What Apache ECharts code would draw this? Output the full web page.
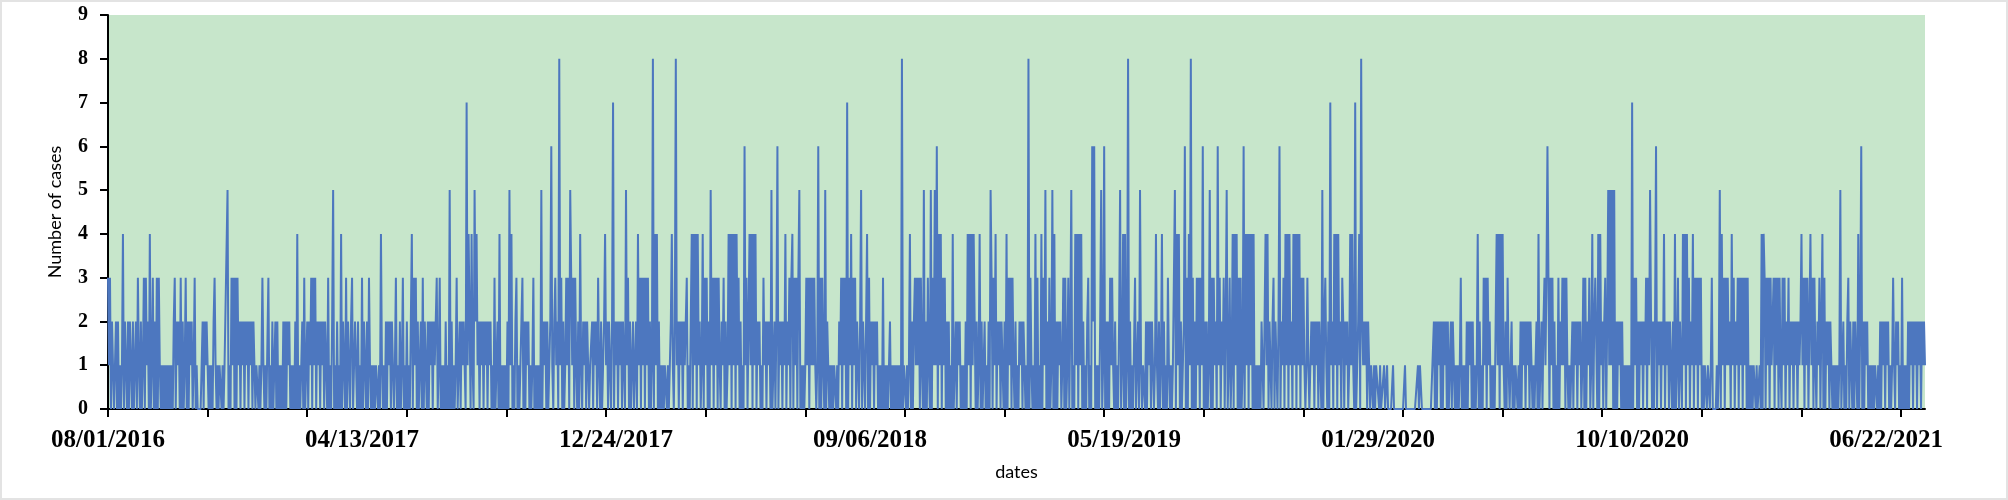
<!DOCTYPE html>
<html>
<head>
<meta charset="utf-8">
<script src="https://cdn.jsdelivr.net/npm/echarts@6/dist/echarts.min.js"></script>
<style>
  html, body { margin: 0; padding: 0; background: #fff; }
  #chart { width: 2008px; height: 500px; }
  #frame { position: absolute; left: 0; top: 0; width: 2008px; height: 500px; box-sizing: border-box; border: 2px solid #e3e3e3; pointer-events: none; }
</style>
</head>
<body>
<div id="chart"></div>
<div id="frame"></div>
<script>
// x axis labels, one every 255 rows
const tickLabels = ['08/01/2016', '04/13/2017', '12/24/2017', '09/06/2018', '05/19/2019', '01/29/2020', '10/10/2020', '06/22/2021'];

// daily number of cases, one digit per day (100 days per line)
const casesPart1 = [
  '3130220120 2010140210 2021020120 3102013031 2040130203 0310101010 1010102302 1203020130 2021201301 0000020212',
  '1010102310 1011010111 5010313030 3120212021 2021202101 1010131010 0301020120 2010102020 2120101020 4010120301',
  '2021303130 2120212021 0301025010 2010402103 0210230121 0201030210 2031010101 1010410102 0212021013 0102013010',
];
const casesPart2 = [
  '2010240313 0201203021 0202120212 3013010102 0105020101 3012021210 7142041052 4120212021 2021201030 1204010101',
  '0205140102 3010123020 2120101301 0101050212 0201261023 1208130201 3130531303 1020410212 0210112021 2031020124',
  '1202102702 1202120210 5130201201 2041303130 3130201804 1402010101 1010124102 8120212021 2301024041 4041201403',
];
const casesPart3 = [
  '1302051303 1303102130 2014140414 0413020106 1302414041 4021201031 2021205012 0260212021 4021303403 1303501010',
  '1313031313 1016030310 5021010101 1010213031 3070314031 3021025021 0240302120 2120101030 1010120101 0101010801',
  '1010140202 3131303105 0203105031 5160414031 3020201040 1202120101 0204140414 4020140201 2010205303 1402120210',
];
const casesPart4 = [
  '2040313031 0201021202 2010803101 0403010403 1502030150 4020212013 0301302501 0414041402 0102301062 6010102501',
  '6020203131 0201025014 0401802010 0301205101 1020212021 0141020140 2010310101 1504140201 2603041803 0203130316',
  '0202015030 3120613021 3025013014 0414030301 6041404140 4010101021 0241402102 3021026021 3041404120 4140414031',
];
const casesPart5 = [
  '3101310121 2021202105 0231020712 0414041203 2021201414 1070124082 1212021011 0101110100 0100100000 1000000000',
  '0010000000 0000010110 0000000000 0202021202 0212020120 2101010130 1010202120 2010140201 0313031201 0102414041',
  '4102031012 0101101020 2120212021 0101204012 0231363031 3020103021 3130310101 2021202120 1303021301 4023304041',
];
const casesPart6 = [
  '2023025151 5050202120 2010101010 7031302021 2021303152 0202602120 2140212021 0204013021 0414041302 1403130313',
  '0101101101 3000010150 4130313120 4130213031 3031303010 1011010010 4043031303 1230313031 0313021302 1202120212',
  '4130313024 1303102130 2403021202 1010101015 0120102302 1020210402 6020212010 1010110102 0212021201 0131021201',
  '0301010202 1202120212 02121',
];

const cases = [casesPart1, casesPart2, casesPart3, casesPart4, casesPart5, casesPart6]
  .flat().join('').replace(/\s/g, '').split('').map(Number);

const labelStep = 255;
const tickStep = 100;

const pad = (n) => String(n).padStart(2, '0');
const fmt = (d) => pad(d.getUTCMonth() + 1) + '/' + pad(d.getUTCDate()) + '/' + d.getUTCFullYear();

// dates counted on from each labelled date
const dates = [];
tickLabels.forEach((lbl, i) => {
  const [m, d, y] = lbl.split('/').map(Number);
  const span = i < tickLabels.length - 1 ? labelStep : cases.length - dates.length;
  for (let k = 0; k < span; k++) dates.push(fmt(new Date(Date.UTC(y, m - 1, d + k))));
});

const render = () => {
  const chartDom = document.getElementById('chart');
  const myChart = echarts.init(chartDom);

  const axisFont = {
    fontFamily: '"Liberation Serif", "Times New Roman", serif',
    fontWeight: 'bold',
    color: '#000',
  };
  const nameFont = {
    fontFamily: 'Lato, "Open Sans", sans-serif',
    fontSize: 18,
    color: '#000',
  };

  const option = {
    animation: false,
    backgroundColor: '#fff',
    grid: {
      left: 108,
      right: 83,
      top: 15,
      bottom: 91,
      show: true,
      backgroundColor: '#c7e6cb',
      borderWidth: 0,
    },
    xAxis: {
      type: 'category',
      data: dates,
      boundaryGap: false,
      name: 'dates',
      nameLocation: 'middle',
      nameGap: 54,
      nameTextStyle: nameFont,
      axisLine: { lineStyle: { color: '#000', width: 2 } },
      axisTick: {
        interval: (idx) => idx % tickStep === 0,
        length: 8,
        lineStyle: { color: '#000', width: 2 },
      },
      axisLabel: {
        interval: (idx) => idx % labelStep === 0,
        hideOverlap: false,
        margin: 19,
        fontSize: 25,
        ...axisFont,
      },
      splitLine: { show: false },
    },
    yAxis: {
      type: 'value',
      min: 0,
      max: 9,
      interval: 1,
      name: 'Number of cases',
      nameLocation: 'middle',
      nameGap: 44,
      nameTextStyle: nameFont,
      axisLine: { show: true, lineStyle: { color: '#000', width: 2 } },
      axisTick: { show: true, length: 8, lineStyle: { color: '#000', width: 2 } },
      axisLabel: { margin: 20, fontSize: 20, ...axisFont },
      splitLine: { show: false },
    },
    series: [
      {
        name: 'cases',
        type: 'line',
        data: cases,
        showSymbol: false,
        symbol: 'none',
        lineStyle: { color: '#4d77bf', width: 2 },
      },
    ],
  };

  myChart.setOption(option);
};

render();
</script>
</body>
</html>
